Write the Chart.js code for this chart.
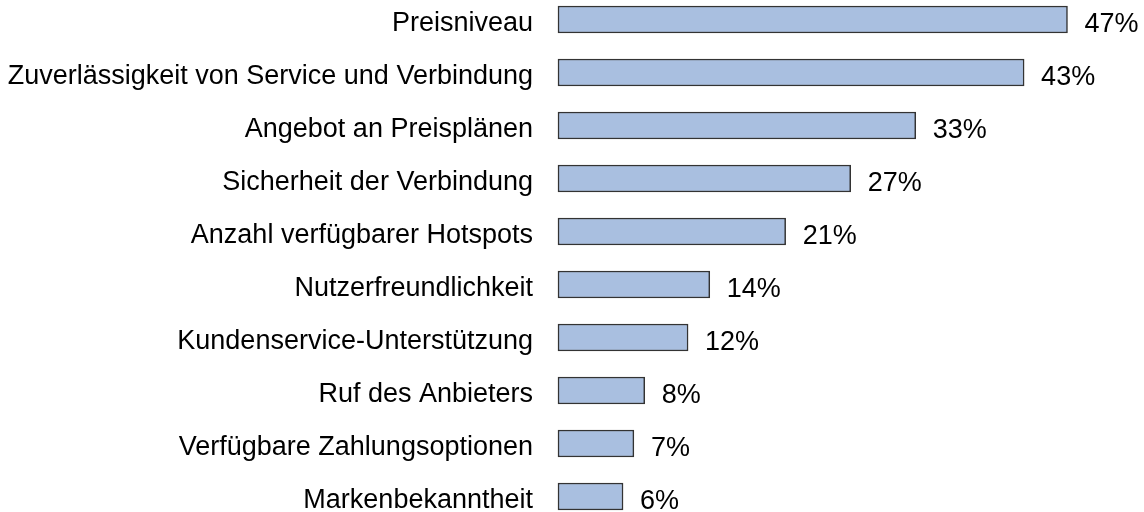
<!DOCTYPE html>
<html>
<head>
<meta charset="utf-8">
<script src="https://cdn.jsdelivr.net/npm/chart.js@4"></script>
<style>
  html, body { margin: 0; padding: 0; background: #fff; }
  #wrap { width: 1144px; height: 512px; }
</style>
</head>
<body>
<div id="wrap"><canvas id="chart"></canvas></div>
<script>
// Categories and shares (percent)
var categories = [
  'Preisniveau',
  'Zuverlässigkeit von Service und Verbindung',
  'Angebot an Preisplänen',
  'Sicherheit der Verbindung',
  'Anzahl verfügbarer Hotspots',
  'Nutzerfreundlichkeit',
  'Kundenservice-Unterstützung',
  'Ruf des Anbieters',
  'Verfügbare Zahlungsoptionen',
  'Markenbekanntheit'
];
var values = [47, 43, 33, 27, 21, 14, 12, 8, 7, 6];

var FONT = '"Liberation Sans", Arial, sans-serif';

// draw the "xx%" labels right of each bar, baseline near the bar's bottom edge
var valueLabels = {
  id: 'valueLabels',
  afterDatasetsDraw: function (chart) {
    var ctx = chart.ctx;
    var meta = chart.getDatasetMeta(0);
    ctx.save();
    ctx.fillStyle = '#000';
    ctx.font = '27px ' + FONT;
    ctx.textAlign = 'left';
    ctx.textBaseline = 'alphabetic';
    meta.data.forEach(function (bar, i) {
      ctx.fillText(values[i] + '%', bar.x + 17, bar.y + bar.height / 2 - 1.5);
    });
    ctx.restore();
  }
};

var ctx = document.getElementById('chart').getContext('2d');
var chart = new Chart(ctx, {
  type: 'bar',
  data: {
    labels: categories,
    datasets: [
      {
        data: values,
        backgroundColor: '#a9bfe0',
        borderColor: '#333333',
        borderWidth: 1.5,
        borderSkipped: false,
        barThickness: 27,
        clip: false
      }
    ]
  },
  options: {
    indexAxis: 'y',
    responsive: true,
    maintainAspectRatio: false,
    animation: false,
    layout: {
      padding: { top: 19.5, bottom: 15.5, right: 44, left: 0 }
    },
    plugins: {
      legend: { display: false },
      tooltip: { enabled: false }
    },
    scales: {
      x: {
        min: 0,
        max: 50,
        display: false
      },
      y: {
        offset: false,
        grid: { display: false, drawTicks: false },
        border: { display: false },
        afterFit: function (scale) {
          scale.width = 558;
          scale.paddingTop = 0;
          scale.paddingBottom = 0;
        },
        ticks: {
          padding: 25,
          labelOffset: 4.5,
          color: '#000',
          font: { family: FONT, size: 27 }
        }
      }
    }
  },
  plugins: [valueLabels]
});
</script>
</body>
</html>
